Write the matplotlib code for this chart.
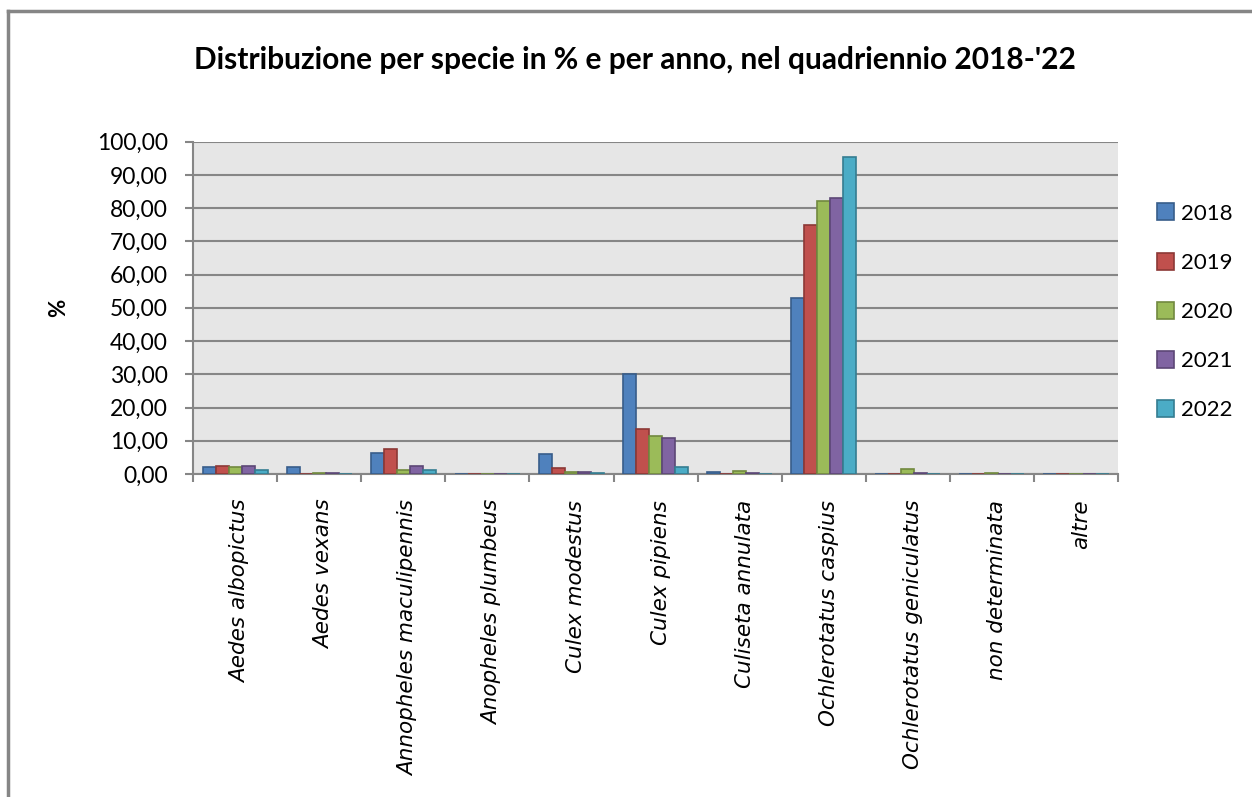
import matplotlib
matplotlib.use('Agg')
import matplotlib.pyplot as plt
import matplotlib.transforms as mtransforms
from matplotlib.lines import Line2D
import numpy as np

species = ['Aedes albopictus', 'Aedes vexans', 'Annopheles maculipennis',
           'Anopheles plumbeus', 'Culex modestus', 'Culex pipiens',
           'Culiseta annulata', 'Ochlerotatus caspius',
           'Ochlerotatus geniculatus', 'non determinata', 'altre']
years = ['2018', '2019', '2020', '2021', '2022']

v2018 = [2.2, 2.0, 6.4, 0.0, 6.0, 30.0, 0.5, 52.9, 0.0, 0.0, 0.0]
v2019 = [2.5, 0.0, 7.5, 0.1, 1.7, 13.4, 0.1, 74.8, 0.1, 0.1, 0.0]
v2020 = [2.0, 0.2, 1.1, 0.0, 0.5, 11.4, 0.8, 82.3, 1.5, 0.2, 0.1]
v2021 = [2.4, 0.2, 2.5, 0.0, 0.7, 10.9, 0.2, 83.0, 0.2, 0.0, 0.1]
v2022 = [1.3, 0.1, 1.3, 0.0, 0.2, 2.0, 0.0, 95.3, 0.1, 0.0, 0.1]
series = [v2018, v2019, v2020, v2021, v2022]

colors = ['#4F81BD', '#C0504D', '#9BBB59', '#8064A2', '#4BACC6']
edges = ['#385D8A', '#8C3836', '#71893F', '#5C4776', '#357D91']

plt.rcParams['font.family'] = ['Lato', 'DejaVu Sans']

fig = plt.figure(figsize=(12.52, 7.97), dpi=100)
ax = fig.add_axes([0.1542, 0.4053, 0.7388, 0.4169])
ax.set_facecolor('#E6E6E6')

x = np.arange(len(species))
w = 0.155
for i, vals in enumerate(series):
    ax.bar(x + (i - 2) * w, vals, width=w, color=colors[i],
           edgecolor=edges[i], linewidth=1.2, label=years[i], zorder=3)

ax.set_xlim(-0.5, len(species) - 0.5)
ax.set_ylim(0, 100)
ax.set_yticks(np.arange(0, 101, 10))
ax.set_yticklabels([f'{v:.2f}'.replace('.', ',') for v in range(0, 101, 10)],
                   fontsize=16.5)
ax.yaxis.grid(True, color='#868686', linewidth=1.5, zorder=1)

# category names: wide italic face, since the labels in the original are tall
ax.set_xticks(x)
ax.set_xticklabels(species, rotation=90, fontsize=15.5, style='italic',
                   family='DejaVu Sans', va='top', ha='center')
ax.tick_params(axis='x', length=0, pad=18.5)
shift = mtransforms.ScaledTranslation(5 / 100, 0, fig.dpi_scale_trans)
for lab in ax.get_xticklabels():
    lab.set_transform(lab.get_transform() + shift)
ax.set_xticks(np.arange(-0.5, len(species), 1), minor=True)
ax.tick_params(axis='x', which='minor', length=6, color='#868686', width=1.5)
ax.tick_params(axis='y', length=6, color='#868686', width=1.5, pad=12)

for s in ['top', 'right']:
    ax.spines[s].set_visible(False)
for s in ['left', 'bottom']:
    ax.spines[s].set_color('#868686')
    ax.spines[s].set_linewidth(1.5)

ax.set_ylabel('%', fontsize=16, fontweight='bold', labelpad=20)

fig.text(0.507, 0.925,
         "Distribuzione per specie in % e per anno, nel quadriennio 2018-'22",
         ha='center', va='center', fontsize=21.5, fontweight='bold')

leg = ax.legend(loc='center left', bbox_to_anchor=(1.02, 0.488), frameon=False,
                fontsize=16, handlelength=0.8, handleheight=0.8,
                handletextpad=0.3, labelspacing=1.3)

# outer chart border
fig.add_artist(Line2D([0.0064, 0.0064], [0, 0.9862], color='#868686', lw=2.5))
fig.add_artist(Line2D([0.0064, 1.0], [0.9862, 0.9862], color='#868686', lw=2.5))

fig.savefig('out.png', dpi=100)
